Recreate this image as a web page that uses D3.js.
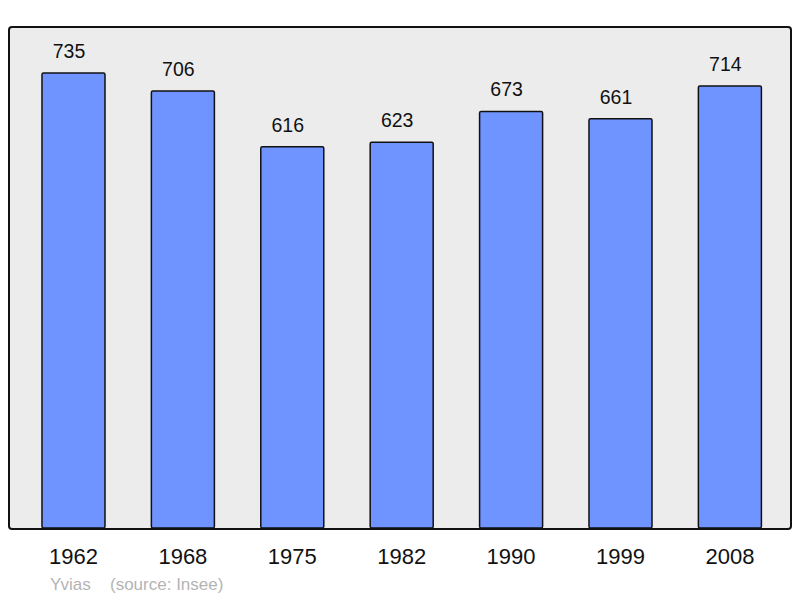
<!DOCTYPE html>
<html>
<head>
<meta charset="utf-8">
<script src="https://cdn.jsdelivr.net/npm/d3@7"></script>
<style>
  body { margin: 0; background: #fff; }
  text { font-family: "Liberation Sans", Arial, sans-serif; }
</style>
</head>
<body>
<div id="chart"></div>
<script>
// Population per census year
const years = ["1962", "1968", "1975", "1982", "1990", "1999", "2008"];
const population = [735, 706, 616, 623, 673, 661, 714];

const width = 800;
const height = 598;
const panel = { left: 9, top: 27, right: 791, bottom: 529 };

const svg = d3.select("#chart")
  .append("svg")
  .attr("width", width)
  .attr("height", height);

// Background panel
svg.append("rect")
  .attr("x", panel.left)
  .attr("y", panel.top)
  .attr("width", panel.right - panel.left)
  .attr("height", panel.bottom - panel.top)
  .attr("rx", 3)
  .attr("fill", "#ececec")
  .attr("stroke", "#111")
  .attr("stroke-width", 2);

const x = d3.scaleBand()
  .domain(years)
  .range([panel.left, panel.right])
  .paddingInner(0.424)
  .paddingOuter(0.286)
  .align(0.527);

const y = d3.scaleLinear()
  .domain([0, 735])
  .range([528, 73]);

const data = years.map((yr, i) => ({ year: yr, value: population[i] }));

svg.selectAll("rect.bar")
  .data(data)
  .enter()
  .append("rect")
  .attr("class", "bar")
  .attr("x", (d) => x(d.year))
  .attr("y", (d) => y(d.value))
  .attr("width", x.bandwidth())
  .attr("height", (d) => y(0) - y(d.value))
  .attr("rx", 1.5)
  .attr("fill", "#7094ff")
  .attr("stroke", "#111")
  .attr("stroke-width", 1.5);

// Value labels (sit a little left of the bar centre, as in the original)
svg.selectAll("text.value")
  .data(data)
  .enter()
  .append("text")
  .attr("class", "value")
  .attr("x", (d) => x(d.year) + x.bandwidth() / 2 - 4.5)
  .attr("y", (d) => y(d.value) - 15)
  .attr("text-anchor", "middle")
  .style("font-size", "19.5px")
  .attr("fill", "#111")
  .text((d) => d.value);

// Year axis (no line, just labels)
const xAxis = d3.axisBottom(x).tickSize(0).tickPadding(0);
const gx = svg.append("g")
  .attr("transform", "translate(0,548)")
  .call(xAxis);
gx.select(".domain").remove();
gx.selectAll("text")
  .attr("dy", "0.71em")
  .attr("fill", "#111")
  .style("font-size", "22px")
  .style("font-family", "'Liberation Sans', Arial, sans-serif");

// Credits
svg.append("text")
  .attr("x", 50)
  .attr("y", 590)
  .attr("fill", "#b4b4b4")
  .style("font-size", "17px")
  .text("Yvias");
svg.append("text")
  .attr("x", 110)
  .attr("y", 590)
  .attr("fill", "#b4b4b4")
  .style("font-size", "17px")
  .text("(source: Insee)");
</script>
</body>
</html>
